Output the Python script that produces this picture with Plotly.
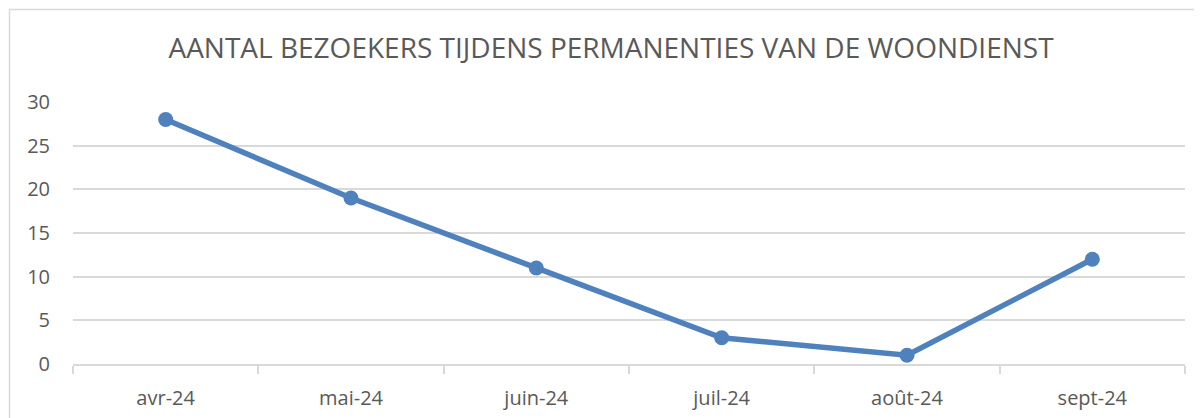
import plotly.graph_objects as go

months = ["avr-24", "mai-24", "juin-24", "juil-24", "août-24", "sept-24"]
visitors = [28, 19, 11, 3, 1, 12]
y_ticks = [0, 5, 10, 15, 20, 25, 30]
title_text = "AANTAL BEZOEKERS TIJDENS PERMANENTIES VAN DE WOONDIENST"

# page has an 8px body margin; work in figure coordinates
OFF = 8
W, H = 1202 - OFF, 418 - OFF
L, R, T, B = 73 - OFF, 1185 - OFF, 102 - OFF, 364 - OFF

fig = go.Figure()
fig.add_trace(go.Scatter(
    x=months, y=visitors, mode="lines+markers",
    line=dict(color="#4F81BD", width=5.5),
    marker=dict(color="#4F81BD", size=15),
    hoverinfo="x+y", showlegend=False,
))

pw, ph = R - L, B - T
def px_x(x): return (x - OFF - L) / pw
def px_y(y): return (B - (y - OFF)) / ph

fig.add_shape(type="rect", xref="paper", yref="paper",
              x0=px_x(9.5), x1=px_x(1230), y0=px_y(440), y1=px_y(9.5),
              line=dict(color="#D9D9D9", width=1.5), layer="below")

fig.update_layout(
    width=W, height=H,
    margin=dict(l=L, r=W - R, t=T, b=H - B, pad=0, autoexpand=False),
    paper_bgcolor="white", plot_bgcolor="white",
    font=dict(family="Open Sans", color="#595959", size=20),
    title=dict(text=title_text, x=(611 - OFF) / W, xanchor="center", y=1 - (48 - OFF) / H, yanchor="middle",
               font=dict(size=28, color="#595959", family="Open Sans")),
    xaxis=dict(type="category", showgrid=False, showline=True, linecolor="#D9D9D9", linewidth=2,
               ticks="outside", tickson="boundaries", ticklen=8, tickcolor="#D9D9D9", tickwidth=2,
               tickfont=dict(size=20, color="#595959"), ticklabelstandoff=15, range=[-0.5, 5.5],
               automargin=False, fixedrange=True),
    yaxis=dict(range=[0, 30], tickvals=y_ticks, showgrid=True, gridcolor="#D9D9D9", gridwidth=2,
               zeroline=False, showline=False, ticks="", tickfont=dict(size=20, color="#595959"),
               ticklabelstandoff=22, automargin=False, fixedrange=True),
)

fig.write_html("out.html")
